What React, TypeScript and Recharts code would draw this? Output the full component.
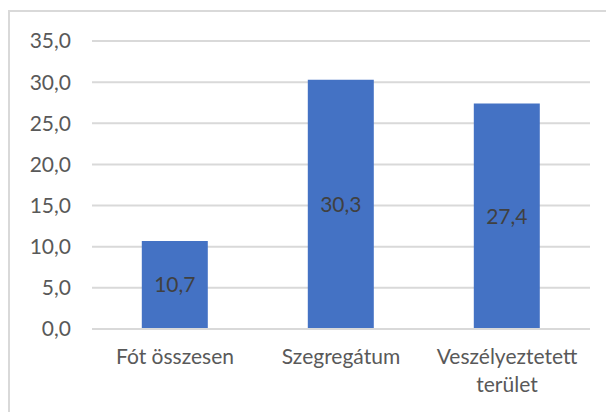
import React from 'react';
import { BarChart, Bar, XAxis, YAxis, CartesianGrid, LabelList } from 'recharts';

const categories = ['Fót összesen', 'Szegregátum', 'Veszélyeztetett terület'];
const values = [10.7, 30.3, 27.4];
const yTicks = [0, 5, 10, 15, 20, 25, 30, 35];

const rows = categories.map((name, i) => ({ name, value: values[i] }));

const FONT = 'Lato, "Open Sans", sans-serif';
const fmt = (v: number) => v.toFixed(1).replace('.', ',');

function CategoryTick(props: any) {
  const { x, y, payload } = props;
  const text: string = payload.value;
  const lines = text === 'Veszélyeztetett terület' ? ['Veszélyeztetett', 'terület'] : [text];
  return (
    <text x={x} y={y} textAnchor="middle" fill="#595959" fontSize={21} fontFamily={FONT}>
      {lines.map((l, i) => (
        <tspan key={i} x={x} dy={i === 0 ? 27 : 28}>{l}</tspan>
      ))}
    </text>
  );
}

export default function App() {
  return (
    <div style={{ position: 'absolute', left: 0, top: 0, width: 606, height: 412, background: '#fff' }}>
      <div style={{
        position: 'absolute', left: 8, top: 10, width: 620, height: 420,
        borderLeft: '2px solid #d9d9d9', borderTop: '2px solid #d9d9d9',
      }} />
      <div style={{ position: 'absolute', left: 0, top: 0 }}>
        <BarChart width={606} height={412} data={rows}
          margin={{ top: 41, right: 16, left: 0, bottom: 23 }}
          barCategoryGap="30%">
          <CartesianGrid vertical={false} stroke="#d9d9d9" strokeWidth={2} />
          <XAxis dataKey="name" axisLine={{ stroke: '#d9d9d9', strokeWidth: 2 }} tickLine={false}
            interval={0} height={60} tick={<CategoryTick />} />
          <YAxis domain={[0, 35]} ticks={yTicks} width={92} axisLine={false} tickLine={false}
            tickMargin={15} tickFormatter={fmt}
            tick={{ fill: '#595959', fontSize: 21, fontFamily: FONT }} />
          <Bar dataKey="value" fill="#4472c4" isAnimationActive={false}>
            <LabelList dataKey="value" position="center" formatter={(v: any) => fmt(Number(v))}
              fill="#404040" fontSize={21} fontFamily={FONT} />
          </Bar>
        </BarChart>
      </div>
    </div>
  );
}
